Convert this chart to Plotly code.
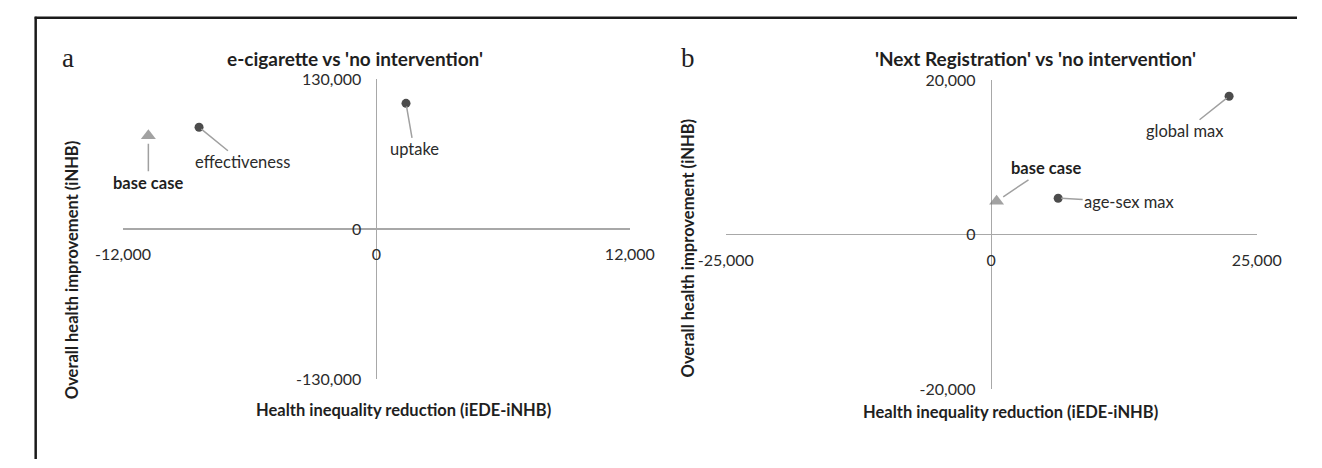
import plotly.graph_objects as go

# ---------------- data ----------------
a_names = ["base case", "effectiveness", "uptake"]
a_x = [-10800, -8400, 1400]
a_y = [81000, 88300, 109000]

b_names = ["base case", "age-sex max", "global max"]
b_x = [500, 6300, 22400]
b_y = [4300, 4700, 17900]

a_xticks = [-12000, 0, 12000]
a_yticks = [-130000, 0, 130000]
b_xticks = [-25000, 0, 25000]
b_yticks = [-20000, 0, 20000]

a_title = "e-cigarette vs 'no intervention'"
b_title = "'Next Registration' vs 'no intervention'"
x_title = "Health inequality reduction (iEDE-iNHB)"
y_title = "Overall health improvement (iNHB)"

# ---------------- styling ----------------
W, H = 1322, 468
FONT = "Lato"
TXT = "#1f1f1f"
LBL = "#2b2b2b"
AXC = "#A8A8A8"

def px(p):
    return p / W

def py(p):
    return 1 - p / H

# label offsets (pixels) for annotations, per point
a_off = [(0, 47), (43, 35), (8, 46)]
b_off = [(49, -33), (71, 4), (-44, 35)]

def symbols(names):
    return ["triangle-up" if n == "base case" else "circle" for n in names]

def colors(names):
    return ["#7A7A7A" if n == "base case" else "#000000" for n in names]

def sizes(names):
    return [13 if n == "base case" else 9 for n in names]

fig = go.Figure()
fig.add_trace(go.Scatter(x=a_x, y=a_y, mode="markers", xaxis="x", yaxis="y",
                         marker=dict(symbol=symbols(a_names), color=colors(a_names),
                                     size=sizes(a_names), line=dict(width=0)),
                         showlegend=False, hoverinfo="skip"))
fig.add_trace(go.Scatter(x=b_x, y=b_y, mode="markers", xaxis="x2", yaxis="y2",
                         marker=dict(symbol=symbols(b_names), color=colors(b_names),
                                     size=sizes(b_names), line=dict(width=0)),
                         showlegend=False, hoverinfo="skip"))

def xax(dom, rng, ticks, ypos):
    return dict(domain=dom, range=rng, anchor="free", position=ypos,
                tickvals=ticks, ticktext=[f"{t:,}" for t in ticks],
                showgrid=False, showline=False, zeroline=True,
                zerolinecolor=AXC, zerolinewidth=1.5,
                ticks="outside", ticklen=11, tickcolor="rgba(0,0,0,0)",
                tickfont=dict(family=FONT, size=16, color=LBL), fixedrange=True)

def yax(dom, rng, ticks, xpos):
    return dict(domain=dom, range=rng, anchor="free", position=xpos,
                tickvals=ticks, ticktext=[f"{t:,}" for t in ticks],
                showgrid=False, showline=False, zeroline=True,
                zerolinecolor=AXC, zerolinewidth=1.5,
                ticks="outside", ticklen=12, tickcolor="rgba(0,0,0,0)",
                tickfont=dict(family=FONT, size=16, color=LBL), fixedrange=True)

annotations = []

def add_labels(names, xs, ys, offs, xr, yr):
    for n, x, y, (ax, ay) in zip(names, xs, ys, offs):
        bold = n == "base case"
        annotations.append(dict(
            x=x, y=y, xref=xr, yref=yr, text=f"<b>{n}</b>" if bold else n,
            showarrow=True, arrowhead=0, arrowwidth=1.5, arrowcolor="#A0A0A0",
            ax=ax, ay=ay, standoff=8 if bold else 3,
            font=dict(family=FONT, size=16.5, color=LBL if not bold else TXT)))

add_labels(a_names, a_x, a_y, a_off, "x", "y")
add_labels(b_names, b_x, b_y, b_off, "x2", "y2")

def ptext(text, x, y, size, bold=True, angle=0, family=FONT):
    annotations.append(dict(
        x=px(x), y=py(y), xref="paper", yref="paper", showarrow=False,
        text=f"<b>{text}</b>" if bold else text, textangle=angle,
        xanchor="center", yanchor="middle",
        font=dict(family=family, size=size, color=TXT)))

ptext(a_title, 341, 51, 19)
ptext(b_title, 1050, 51, 19)
ptext("a", 42, 50, 27, bold=False, family="Liberation Serif")
ptext("b", 688, 50, 27, bold=False, family="Liberation Serif")
ptext(x_title, 391, 417, 16.5)
ptext(x_title, 1024, 419, 16.5)
ptext(y_title, 46, 271, 16.5, angle=-90)
ptext(y_title, 687, 248, 16.5, angle=-90)

fig.update_layout(
    width=W, height=H, margin=dict(l=0, r=0, t=0, b=0),
    paper_bgcolor="white", plot_bgcolor="white",
    xaxis=xax([px(99), px(627)], [-12000, 12000], a_xticks, py(228)),
    yaxis=yax([py(385), py(72)], [-130000, 130000], a_yticks, px(363)),
    xaxis2=xax([px(727), px(1280)], [-25000, 25000], b_xticks, py(234)),
    yaxis2=yax([py(395), py(73)], [-20000, 20000], b_yticks, px(1003)),
    annotations=annotations,
    shapes=[
        dict(type="line", xref="paper", yref="paper", x0=px(7), x1=1, y0=py(8), y1=py(8),
             line=dict(color="#1a1a1a", width=2.5)),
        dict(type="line", xref="paper", yref="paper", x0=px(8), x1=px(8), y0=0, y1=py(7),
             line=dict(color="#1a1a1a", width=2.5)),
    ],
)

fig.write_html("out.html", config={"displayModeBar": False, "staticPlot": True})

# remove the default page margin so the figure sits exactly in the window
with open("out.html", encoding="utf-8") as f:
    html = f.read()
html = html.replace("<head>", "<head><style>html,body{margin:0;padding:0;overflow:hidden;}</style>", 1)
with open("out.html", "w", encoding="utf-8") as f:
    f.write(html)
